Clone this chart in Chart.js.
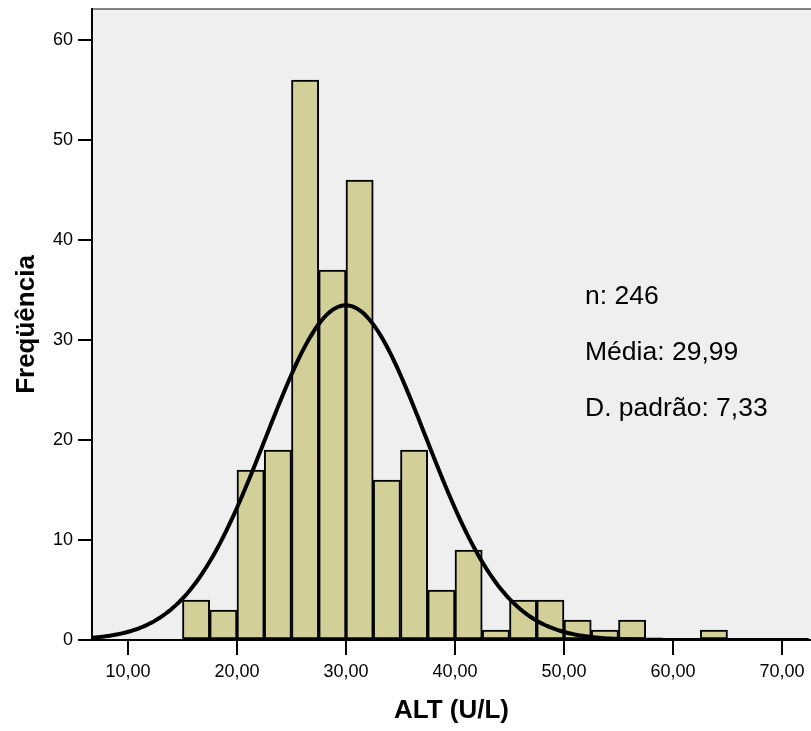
<!DOCTYPE html>
<html>
<head>
<meta charset="utf-8">
<title>ALT (U/L)</title>
<script src="https://cdn.jsdelivr.net/npm/chart.js"></script>
<style>
  html, body { margin: 0; padding: 0; background: #fff; }
  canvas { display: block; }
</style>
</head>
<body>
<canvas id="histChart" width="811" height="731"></canvas>
<script>
// Histogram bins (lower edge, width 2,5) and counts
const binStarts = [15, 17.5, 20, 22.5, 25, 27.5, 30, 32.5, 35, 37.5, 40, 42.5, 45, 47.5, 50, 52.5, 55, 57.5, 60, 62.5];
const binCounts = [4, 3, 17, 19, 56, 37, 46, 16, 19, 5, 9, 1, 4, 4, 2, 1, 2, 0, 0, 1];
const binWidth = 2.5;

// Summary statistics shown on the chart
const nTotal = 246;
const mean = 29.99;
const stdDev = 7.33;
const statLines = ['n: 246', 'Média: 29,99', 'D. padrão: 7,33'];

// Axis ranges and ticks
const xMin = 6.7, xMax = 72.66;
const yMax = 63.1;
const xTickStep = 10;
const yTickStep = 10;

const FONT = "'Liberation Sans', Arial, Helvetica, sans-serif";

const barData = binStarts.map((s, i) => ({ x: s + binWidth / 2, y: binCounts[i] }));

// fitted normal curve, scaled to counts per bin
const curveData = [];
for (let x = xMin; x <= xMax + 0.001; x += 0.25) {
    const z = (x - mean) / stdDev;
    const y = nTotal * binWidth * Math.exp(-0.5 * z * z) / (stdDev * Math.sqrt(2 * Math.PI));
    curveData.push({ x: x, y: y });
}

// plot background and top frame line
const plotBackground = {
    id: 'plotBackground',
    beforeDraw(chart) {
        const { ctx, chartArea: a } = chart;
        ctx.save();
        ctx.fillStyle = '#efefef';
        ctx.fillRect(a.left, a.top, a.right - a.left, a.bottom - a.top);
        ctx.strokeStyle = '#5a5a5a';
        ctx.lineWidth = 1.5;
        ctx.beginPath();
        ctx.moveTo(a.left, a.top);
        ctx.lineTo(a.right, a.top);
        ctx.stroke();
        ctx.restore();
    }
};

// n / mean / sd block on the right side of the plot
const statsText = {
    id: 'statsText',
    afterDatasetsDraw(chart) {
        const { ctx } = chart;
        ctx.save();
        ctx.fillStyle = '#000';
        ctx.font = '26.5px ' + FONT;
        ctx.textAlign = 'left';
        ctx.textBaseline = 'alphabetic';
        statLines.forEach((t, i) => ctx.fillText(t, 585, 304 + i * 56));
        ctx.restore();
    }
};

const ctx = document.getElementById('histChart').getContext('2d');
new Chart(ctx, {
    data: {
        datasets: [
            {
                type: 'line',
                data: curveData,
                borderColor: '#000',
                borderWidth: 4,
                pointRadius: 0,
                tension: 0,
                fill: false,
                order: 0
            },
            {
                type: 'bar',
                data: barData,
                backgroundColor: '#d3cf99',
                borderColor: '#000',
                borderWidth: 2,
                borderSkipped: false,
                barPercentage: 1,
                categoryPercentage: 1,
                order: 1
            }
        ]
    },
    options: {
        responsive: false,
        animation: false,
        layout: { padding: { top: 9, right: 0, left: 0, bottom: 0 } },
        plugins: {
            legend: { display: false },
            tooltip: { enabled: false }
        },
        scales: {
            x: {
                type: 'linear',
                min: xMin,
                max: xMax,
                offset: false,
                afterFit(scale) {
                    scale.height = 91;
                    scale.paddingLeft = 0;
                    scale.paddingRight = 0;
                },
                border: { color: '#000', width: 2 },
                grid: { offset: false, drawOnChartArea: false, drawTicks: true, tickLength: 15, tickColor: '#000', lineWidth: 2 },
                ticks: {
                    stepSize: xTickStep,
                    includeBounds: false,
                    autoSkip: false,
                    maxRotation: 0,
                    color: '#000',
                    padding: 6,
                    font: { family: FONT, size: 18 },
                    callback: v => v.toFixed(2).replace('.', ',')
                },
                title: {
                    display: true,
                    text: 'ALT (U/L)',
                    color: '#000',
                    font: { family: FONT, size: 26, weight: 'bold' },
                    padding: { top: 0, bottom: 5 }
                }
            },
            y: {
                min: 0,
                max: yMax,
                afterFit(scale) {
                    scale.width = 92;
                    scale.paddingTop = 0;
                    scale.paddingBottom = 0;
                },
                border: { color: '#000', width: 2 },
                grid: { drawOnChartArea: false, drawTicks: true, tickLength: 14, tickColor: '#000', lineWidth: 2 },
                ticks: {
                    stepSize: yTickStep,
                    includeBounds: false,
                    color: '#000',
                    padding: 5,
                    font: { family: FONT, size: 18 }
                },
                title: {
                    display: true,
                    text: 'Freqüência',
                    color: '#000',
                    font: { family: FONT, size: 26, weight: 'bold' },
                    padding: { top: 11, bottom: 0 }
                }
            }
        }
    },
    plugins: [plotBackground, statsText]
});
</script>
</body>
</html>
